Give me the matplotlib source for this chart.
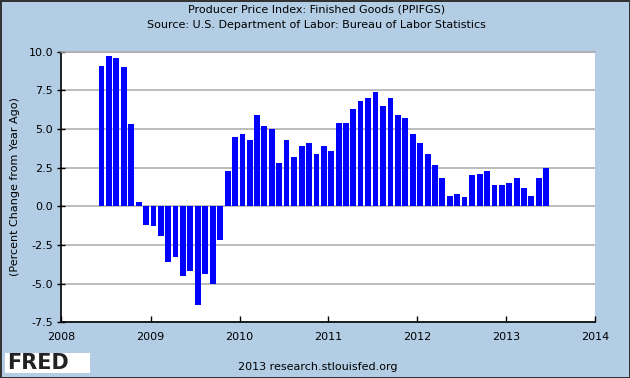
import pandas as pd
import matplotlib
matplotlib.use("Agg")
import matplotlib.pyplot as plt
import matplotlib.dates as mdates
from matplotlib.patches import Rectangle

# PPI finished goods, percent change from year ago, monthly Jun 2008 - Jun 2013
start_month = "2008-06-01"
pct_change = [
    9.1, 9.7, 9.6, 9.0, 5.3, 0.3, -1.2, -1.3, -1.9, -3.6, -3.3, -4.5,
    -4.2, -6.4, -4.4, -5.0, -2.2, 2.3, 4.5, 4.7, 4.3, 5.9, 5.2, 5.0,
    2.8, 4.3, 3.2, 3.9, 4.1, 3.4, 3.9, 3.6, 5.4, 5.4, 6.3, 6.8,
    7.0, 7.4, 6.5, 7.0, 5.9, 5.7, 4.7, 4.1, 3.4, 2.7, 1.8, 0.7,
    0.8, 0.6, 2.0, 2.1, 2.3, 1.4, 1.4, 1.5, 1.8, 1.2, 0.7, 1.8,
    2.5,
]
year_ticks = ["2008", "2009", "2010", "2011", "2012", "2013", "2014"]
y_ticks = [-7.5, -5.0, -2.5, 0.0, 2.5, 5.0, 7.5, 10.0]

bg = "#B3CDE5"
dates = pd.date_range(start_month, periods=len(pct_change), freq="MS")

fig = plt.figure(figsize=(6.3, 3.78), dpi=100, facecolor=bg)
fig.patch.set_edgecolor("#333333")
fig.patch.set_linewidth(1.0)
ax = fig.add_axes([0.0976, 0.1474, 0.8474, 0.7158])
ax.set_facecolor("white")

ax.bar(dates, pct_change, width=24, align="edge", color="#0000FF", zorder=3)

ax.set_xlim(pd.Timestamp("2008-01-01"), pd.Timestamp("2014-01-01"))
ax.set_ylim(-7.5, 10.0)
ax.set_xticks([pd.Timestamp(y + "-01-01") for y in year_ticks])
ax.xaxis.set_major_formatter(mdates.DateFormatter("%Y"))
ax.set_yticks(y_ticks)
ax.set_yticklabels([f"{v:.1f}" for v in y_ticks])

ax.grid(axis="y", color="#AAAAAA", linewidth=1.1, zorder=1)
ax.tick_params(labelsize=8, colors="black", width=1)
ax.tick_params(axis="x", direction="in", length=4, pad=7)
ax.tick_params(axis="y", direction="inout", length=6, pad=3)
for side in ["left", "bottom"]:
    ax.spines[side].set_color("black")
    ax.spines[side].set_linewidth(1.2)
ax.spines["right"].set_visible(False)
ax.spines["top"].set_color("#AAAAAA")
ax.spines["top"].set_linewidth(1.1)

ax.set_ylabel("(Percent Change from Year Ago)", fontsize=8, labelpad=6)

fig.text(0.503, 0.974, "Producer Price Index: Finished Goods (PPIFGS)",
         ha="center", va="center", fontsize=8)
fig.text(0.503, 0.933, "Source: U.S. Department of Labor: Bureau of Labor Statistics",
         ha="center", va="center", fontsize=8)
fig.text(0.505, 0.030, "2013 research.stlouisfed.org",
         ha="center", va="center", fontsize=8)

# FRED logo box
fig.patches.append(Rectangle((5 / 630, 5 / 378), 85 / 630, 20 / 378,
                             transform=fig.transFigure, facecolor="white",
                             edgecolor="none"))
fig.text(7 / 630, 15 / 378, "FRED", ha="left", va="center", fontsize=15,
         fontweight="bold", color="#222222")

fig.savefig("out.png", dpi=100, facecolor=bg, edgecolor=fig.patch.get_edgecolor())
